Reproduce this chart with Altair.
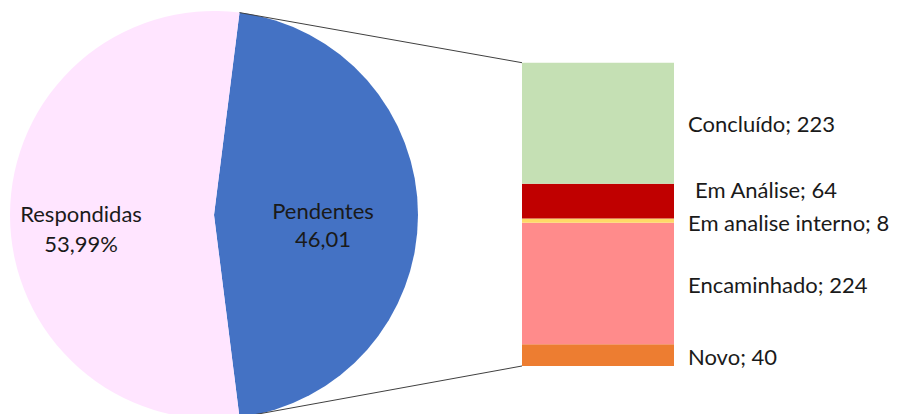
import math
import altair as alt
import pandas as pd

# ---- data ----
pie_cats = ["Pendentes", "Respondidas"]
pie_vals = [46.01, 53.99]
pie_value_labels = ["46,01", "53,99%"]
pie_colors = ["#4472C4", "#FFE5FF"]

bar_cats = ["Novo", "Encaminhado", "Em analise interno", "Em Análise", "Concluído"]
bar_vals = [40, 224, 8, 64, 223]
bar_colors = ["#ED7D31", "#FF8B8B", "#FFD966", "#C00000", "#C5E0B4"]

# ---- layout ----
W, H = 883, 406
CX, CY, R = 206, 207, 204
BAR_X0, BAR_X1 = 514, 666
BAR_YTOP, BAR_YBOT = 54.7, 358
LABEL_X = 680
FONT = "Lato"
FS = 22

pie_total = sum(pie_vals)
bar_total = sum(bar_vals)
start = math.pi / 2 - math.pi * pie_vals[0] / pie_total

pie_df = pd.DataFrame({
    "cat": pie_cats,
    "value": pie_vals,
    "ord": list(range(len(pie_cats))),
    "txt": [c + "\n" + v for c, v in zip(pie_cats, pie_value_labels)],
})
bar_df = pd.DataFrame({
    "cat": bar_cats,
    "value": bar_vals,
    "ord": list(range(len(bar_cats))),
})

color_scale = alt.Scale(domain=pie_cats + bar_cats, range=pie_colors + bar_colors)
theta_scale = alt.Scale(domain=[0, pie_total], range=[start, start + 2 * math.pi])
y_scale = alt.Scale(domain=[0, bar_total], range=[BAR_YBOT, BAR_YTOP], nice=False, zero=True)

# pie
arc = alt.Chart(pie_df).mark_arc(radius=R, stroke=None).encode(
    theta=alt.Theta("value:Q", stack=True, scale=theta_scale),
    order=alt.Order("ord:Q"),
    color=alt.Color("cat:N", scale=color_scale, legend=None),
    x=alt.value(CX), y=alt.value(CY),
)

def pie_text(cat, radius, dy, lh):
    return alt.Chart(pie_df).transform_filter(alt.datum.cat == cat).mark_text(
        radius=radius, font=FONT, fontSize=FS, lineBreak="\n", lineHeight=lh,
        color="#1a1a1a", baseline="middle", align="center", dy=dy,
    ).encode(
        theta=alt.Theta("value:Q", stack=True, scale=theta_scale),
        order=alt.Order("ord:Q"),
        text="txt:N",
        x=alt.value(CX), y=alt.value(CY),
    )

# text layers keep the full stack so the midpoint angles match the arcs
def pie_text_full(cat, radius, dy, lh):
    return alt.Chart(pie_df).mark_text(
        radius=radius, font=FONT, fontSize=FS, lineBreak="\n", lineHeight=lh,
        color="#1a1a1a", baseline="middle", align="center", dy=dy,
    ).encode(
        theta=alt.Theta("value:Q", stack=True, scale=theta_scale),
        order=alt.Order("ord:Q"),
        text="txt:N",
        x=alt.value(CX), y=alt.value(CY),
        opacity=alt.condition(alt.datum.cat == cat, alt.value(1), alt.value(0)),
    )

pie_t1 = pie_text_full("Pendentes", 109, -3, 28)
pie_t2 = pie_text_full("Respondidas", 133, 0, 30)

# connectors (from pie slice edge to bar corners)
ang = start
sweep = 2 * math.pi * pie_vals[0] / pie_total
def ymap(v):
    return BAR_YBOT + (BAR_YTOP - BAR_YBOT) * v / bar_total
conn_df = pd.DataFrame({
    "x": [CX + R * math.sin(ang), CX + R * math.sin(ang + sweep)],
    "y": [CY - R * math.cos(ang), CY - R * math.cos(ang + sweep)],
    "x2": [BAR_X0, BAR_X0],
    "y2": [ymap(bar_total), ymap(0)],
})
conn = alt.Chart(conn_df).mark_rule(color="#404040", strokeWidth=1).encode(
    x=alt.X("x:Q", scale=None), y=alt.Y("y:Q", scale=None),
    x2="x2:Q", y2="y2:Q",
)

# bar of pie
bar_base = alt.Chart(bar_df).transform_stack(
    stack="value", groupby=[], as_=["y0", "y1"], sort=[alt.SortField("ord", order="ascending")]
).transform_calculate(
    mid="(datum.y0 + datum.y1) / 2",
    label="datum.cat + '; ' + datum.value",
)

bars = bar_base.mark_rect().encode(
    x=alt.value(BAR_X0), x2=alt.value(BAR_X1),
    y=alt.Y("y0:Q", scale=y_scale, axis=None), y2="y1:Q",
    color=alt.Color("cat:N", scale=color_scale, legend=None),
)

def bar_text(cats, dx, dy):
    return bar_base.transform_filter(
        alt.FieldOneOfPredicate(field="cat", oneOf=cats)
    ).mark_text(
        font=FONT, fontSize=FS, align="left", baseline="middle", color="#1a1a1a", dx=dx, dy=dy,
    ).encode(
        x=alt.value(LABEL_X),
        y=alt.Y("mid:Q", scale=y_scale, axis=None),
        text="label:N",
    )

t_main = bar_text(["Concluído", "Encaminhado"], 0, 2)
t_novo = bar_text(["Novo"], 0, 3)
t_an = bar_text(["Em Análise"], 7, -10)
t_int = bar_text(["Em analise interno"], 0, 3)

chart = alt.layer(arc, pie_t1, pie_t2, conn, bars, t_main, t_novo, t_an, t_int).properties(
    width=W, height=H, autosize=alt.AutoSizeParams(type="none"), padding=0,
).configure_view(stroke=None)

chart.save("out.html", embed_options={"renderer": "svg", "actions": False})
